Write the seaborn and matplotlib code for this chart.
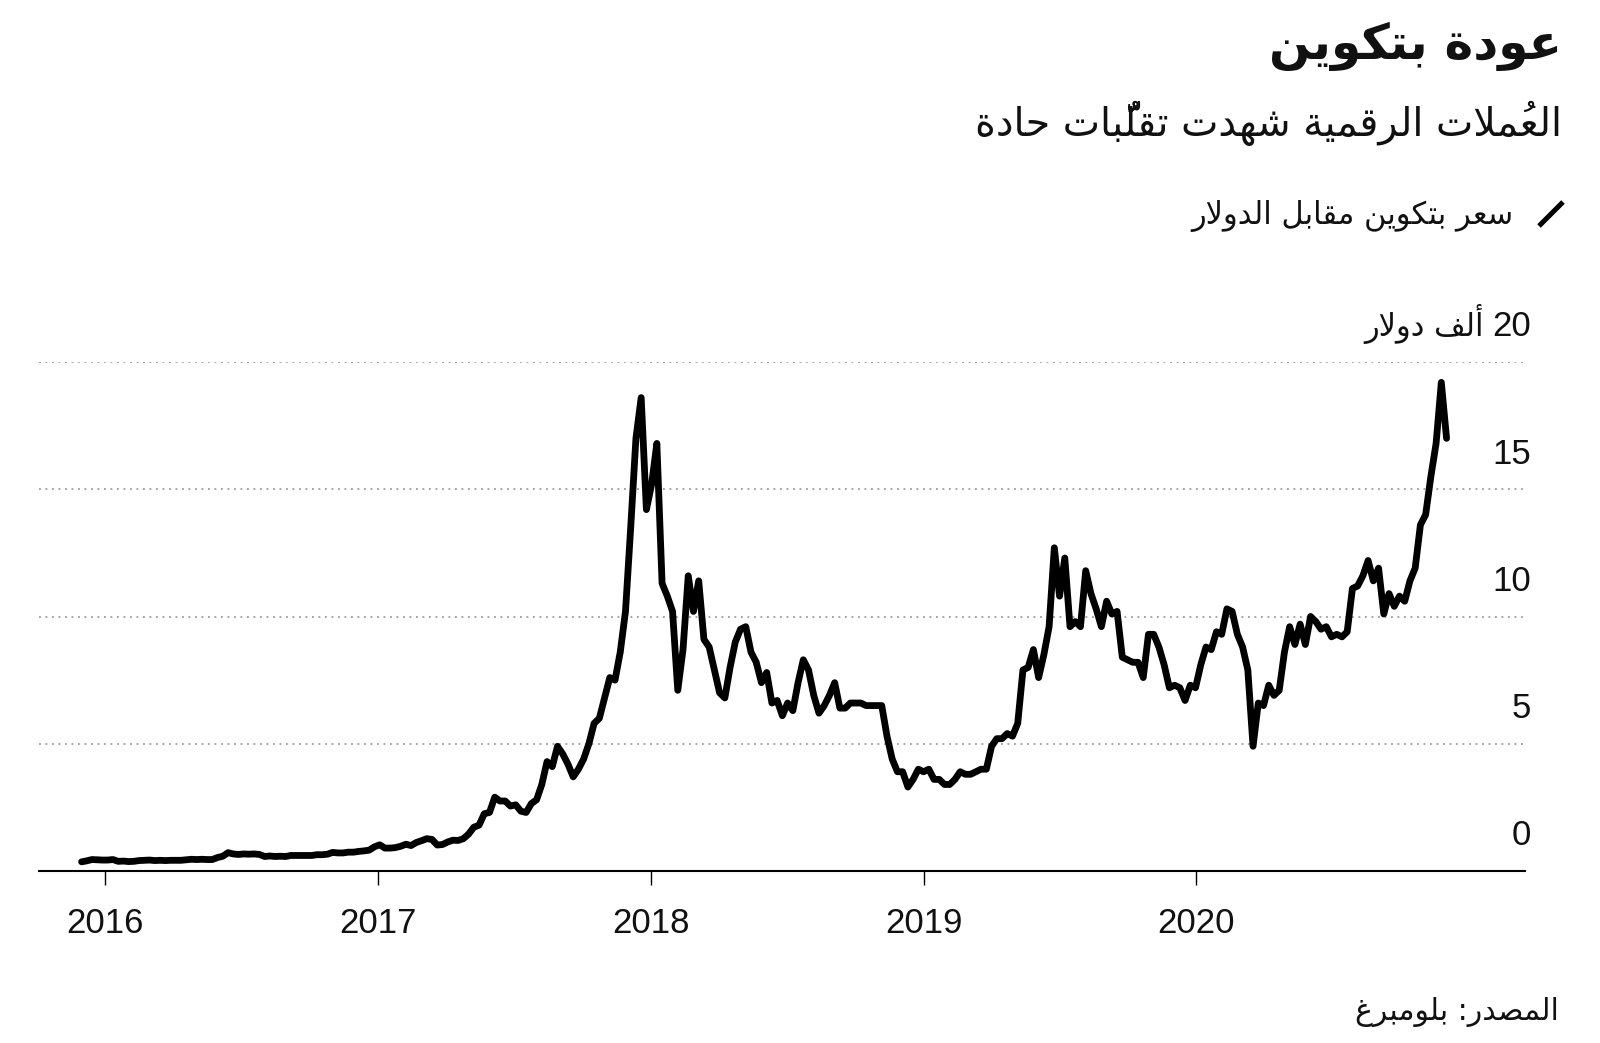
import matplotlib
matplotlib.use("Agg")
import matplotlib.pyplot as plt
import matplotlib.transforms as mtransforms
from matplotlib.lines import Line2D
import pandas as pd
import seaborn as sns

# Weekly bitcoin close, thousand USD
start_2015 = "2015-12-01"
btc_2015 = [0.36, 0.40, 0.45, 0.44, 0.43]
start_2016 = "2016-01-05"
btc_2016 = [0.43, 0.45, 0.38, 0.39,
            0.37, 0.38, 0.41, 0.42,
            0.43, 0.41, 0.42, 0.41, 0.42,
            0.42, 0.42, 0.44, 0.46,
            0.45, 0.46, 0.45, 0.45, 0.53,
            0.58, 0.72, 0.67, 0.65,
            0.67, 0.66, 0.67, 0.65,
            0.57, 0.59, 0.57, 0.58, 0.57,
            0.61, 0.61, 0.61, 0.61,
            0.61, 0.64, 0.64, 0.66,
            0.73, 0.71, 0.71, 0.74, 0.74,
            0.77, 0.79, 0.82, 0.95]
start_2017 = "2017-01-03"
btc_2017 = [1.03, 0.90, 0.90, 0.92, 0.97,
            1.05, 1.00, 1.12, 1.19,
            1.27, 1.24, 1.02, 1.04,
            1.14, 1.21, 1.20, 1.27,
            1.45, 1.72, 1.80, 2.25, 2.30,
            2.90, 2.75, 2.75, 2.55,
            2.60, 2.35, 2.30, 2.65,
            2.80, 3.40, 4.30, 4.10, 4.90,
            4.60, 4.20, 3.70, 4.00,
            4.40, 5.00, 5.80, 6.00, 6.80,
            7.60, 7.50, 8.60, 10.2,
            13.5, 17.0, 18.6, 14.2]
start_2018 = "2018-01-02"
btc_2018 = [15.2, 16.8, 11.3, 10.8, 10.2,
            7.1, 8.7, 11.6, 10.2,
            11.4, 9.1, 8.8, 7.9,
            7.0, 6.8, 8.0, 9.0,
            9.5, 9.6, 8.6, 8.2, 7.4,
            7.8, 6.6, 6.7, 6.1,
            6.6, 6.3, 7.4, 8.3, 7.9,
            6.9, 6.2, 6.5, 6.9,
            7.4, 6.4, 6.4, 6.6,
            6.6, 6.6, 6.5, 6.5, 6.5,
            6.5, 5.3, 4.4, 3.9,
            3.9, 3.3, 3.6, 4.0]
start_2019 = "2019-01-01"
btc_2019 = [3.9, 4.0, 3.6, 3.6, 3.4,
            3.4, 3.6, 3.9, 3.8,
            3.8, 3.9, 4.0, 4.0,
            4.9, 5.2, 5.2, 5.4, 5.3,
            5.8, 7.9, 8.0, 8.7,
            7.6, 8.5, 9.6, 12.7,
            10.8, 12.3, 9.6, 9.8, 9.6,
            11.8, 10.9, 10.3, 9.6,
            10.6, 10.1, 10.2, 8.4,
            8.3, 8.2, 8.2, 7.6, 9.3,
            9.3, 8.8, 8.1, 7.2,
            7.3, 7.2, 6.7, 7.3, 7.2]
start_2020 = "2020-01-07"
btc_2020 = [8.1, 8.8, 8.7, 9.4,
            9.3, 10.3, 10.2, 9.3,
            8.8, 7.9, 4.9, 6.6, 6.5,
            7.3, 6.9, 7.1, 8.6,
            9.6, 8.9, 9.7, 8.9,
            10.0, 9.8, 9.5, 9.6, 9.2,
            9.3, 9.2, 9.4, 11.1,
            11.2, 11.6, 12.2, 11.4,
            11.9, 10.1, 10.9, 10.4, 10.8,
            10.6, 11.4, 11.9, 13.6,
            14.0, 15.5, 16.8, 19.2,
            17.0]

year_ticks = ["2016", "2017", "2018", "2019", "2020"]
y_ticks = [0, 5, 10, 15, 20]

TITLE = "عودة بتكوين"
SUBTITLE = "العُملات الرقمية شهدت تقلُّبات حادة"
LEGEND = "سعر بتكوين مقابل الدولار"
UNIT = "ألف دولار"
SOURCE = "المصدر: بلومبرغ"

# ---- minimal Arabic shaping: contextual forms + right-to-left order ----
FORMS = {  # isolated, final, initial, medial (None = joins only to the right)
    "\u0627": (0xFE8D, 0xFE8E, None, None),
    "\u0623": (0xFE83, 0xFE84, None, None),
    "\u0628": (0xFE8F, 0xFE90, 0xFE91, 0xFE92),
    "\u0629": (0xFE93, 0xFE94, None, None),
    "\u062A": (0xFE95, 0xFE96, 0xFE97, 0xFE98),
    "\u062D": (0xFEA1, 0xFEA2, 0xFEA3, 0xFEA4),
    "\u062F": (0xFEA9, 0xFEAA, None, None),
    "\u0631": (0xFEAD, 0xFEAE, None, None),
    "\u0633": (0xFEB1, 0xFEB2, 0xFEB3, 0xFEB4),
    "\u0634": (0xFEB5, 0xFEB6, 0xFEB7, 0xFEB8),
    "\u0635": (0xFEB9, 0xFEBA, 0xFEBB, 0xFEBC),
    "\u0639": (0xFEC9, 0xFECA, 0xFECB, 0xFECC),
    "\u063A": (0xFECD, 0xFECE, 0xFECF, 0xFED0),
    "\u0641": (0xFED1, 0xFED2, 0xFED3, 0xFED4),
    "\u0642": (0xFED5, 0xFED6, 0xFED7, 0xFED8),
    "\u0643": (0xFED9, 0xFEDA, 0xFEDB, 0xFEDC),
    "\u0644": (0xFEDD, 0xFEDE, 0xFEDF, 0xFEE0),
    "\u0645": (0xFEE1, 0xFEE2, 0xFEE3, 0xFEE4),
    "\u0646": (0xFEE5, 0xFEE6, 0xFEE7, 0xFEE8),
    "\u0647": (0xFEE9, 0xFEEA, 0xFEEB, 0xFEEC),
    "\u0648": (0xFEED, 0xFEEE, None, None),
    "\u064A": (0xFEF1, 0xFEF2, 0xFEF3, 0xFEF4),
}
LAM_ALEF = {"\u0627": (0xFEFB, 0xFEFC), "\u0623": (0xFEF7, 0xFEF8)}
MARKS = {"\u064F", "\u0651"}


def shape(text):
    clusters = []
    for ch in text:
        if ch in MARKS and clusters:
            clusters[-1][1].append(ch)
        else:
            clusters.append([ch, []])
    res = []
    prev_joins = False
    i = 0
    while i < len(clusters):
        ch, marks = clusters[i]
        nxt = clusters[i + 1][0] if i + 1 < len(clusters) else None
        if ch not in FORMS:
            res.append("".join(marks) + ch)
            prev_joins = False
            i += 1
            continue
        if ch == "\u0644" and nxt in LAM_ALEF:
            iso, fin = LAM_ALEF[nxt]
            res.append("".join(marks + clusters[i + 1][1]) + chr(fin if prev_joins else iso))
            prev_joins = False
            i += 2
            continue
        iso, fin, ini, med = FORMS[ch]
        can_next = ini is not None and nxt in FORMS
        if prev_joins and can_next:
            g = med
        elif prev_joins:
            g = fin
        elif can_next:
            g = ini
        else:
            g = iso
        # zero-width marks go before their letter in left-to-right drawing order
        res.append("".join(marks) + chr(g))
        prev_joins = can_next
        i += 1
    return "".join(reversed(res))


# ---- data frame ----
parts = []
for start, vals in [(start_2015, btc_2015), (start_2016, btc_2016), (start_2017, btc_2017),
                    (start_2018, btc_2018), (start_2019, btc_2019), (start_2020, btc_2020)]:
    parts.append(pd.DataFrame({"date": pd.date_range(start, periods=len(vals), freq="7D"),
                               "price": vals}))
df = pd.concat(parts, ignore_index=True)

sns.set_theme(style="white")
plt.rcParams["font.family"] = ["DejaVu Sans"]
INK = "#111111"
AR = ["DejaVu Sans"]
NUM = ["Liberation Sans", "DejaVu Sans"]

W, H = 1600, 1043
fig = plt.figure(figsize=(W / 100, H / 100), dpi=100)
ax = fig.add_axes([39 / W, 1 - 871 / H, (1525 - 39) / W, (871 - 362) / H])

sns.lineplot(data=df, x="date", y="price", ax=ax, color="black", linewidth=4.9,
             estimator=None, sort=False)
for ln in ax.lines:
    ln.set_solid_joinstyle("round")
    ln.set_solid_capstyle("round")
    ln.set_clip_on(False)
    ln.set_zorder(3)

ax.set_xlim(pd.Timestamp("2015-10-05"), pd.Timestamp("2021-03-16"))
ax.set_ylim(0, 20)
ax.set_xlabel("")
ax.set_ylabel("")

for s in ["left", "right", "top"]:
    ax.spines[s].set_visible(False)
ax.spines["bottom"].set_color("black")
ax.spines["bottom"].set_linewidth(1.5)

ax.set_yticks(y_ticks[1:])
ax.yaxis.grid(True, linestyle=(0, (1, 2.6)), color="#9c9c9c", linewidth=1.3)
ax.xaxis.grid(False)
ax.tick_params(axis="y", left=False, labelleft=False)

ax.set_xticks([pd.Timestamp(y + "-01-01") for y in year_ticks])
ax.set_xticklabels(year_ticks, fontfamily=NUM, fontsize=25, color=INK)
ax.tick_params(axis="x", bottom=True, direction="out", length=10, width=1.0,
               color="black", pad=16)

# y labels sit above their gridlines, right aligned at the plot edge
trans = mtransforms.blended_transform_factory(ax.transAxes, ax.transData)
for v in y_ticks:
    ax.annotate(f"{v}", xy=(1.0, v), xycoords=trans, xytext=(4.5, 18.5),
                textcoords="offset points", ha="right", va="baseline",
                fontsize=25, color=INK, fontfamily=NUM, annotation_clip=False)
ax.annotate(shape(UNIT), xy=(1.0, y_ticks[-1]), xycoords=trans, xytext=(-29.5, 18.5),
            textcoords="offset points", ha="right", va="baseline",
            fontsize=22, color=INK, fontfamily=AR, annotation_clip=False)

# header texts
fig.text(1562 / W, 1 - 46 / H, shape(TITLE), ha="right", va="center",
         fontsize=35, fontweight="bold", color=INK, fontfamily=AR)
fig.text(1562 / W, 1 - 123 / H, shape(SUBTITLE), ha="right", va="center",
         fontsize=28.5, color=INK, fontfamily=AR)

# legend swatch + label
fig.add_artist(Line2D([1539 / W, 1563 / W], [1 - 226 / H, 1 - 202 / H],
                      color="black", linewidth=3.6, solid_capstyle="butt"))
fig.text(1513 / W, 1 - 216 / H, shape(LEGEND), ha="right", va="center",
         fontsize=22, color=INK, fontfamily=AR)

fig.text(1559 / W, 1 - 1012 / H, shape(SOURCE), ha="right", va="center",
         fontsize=21.5, color=INK, fontfamily=AR)

fig.savefig("out.png", dpi=100, facecolor="white")
plt.close(fig)
